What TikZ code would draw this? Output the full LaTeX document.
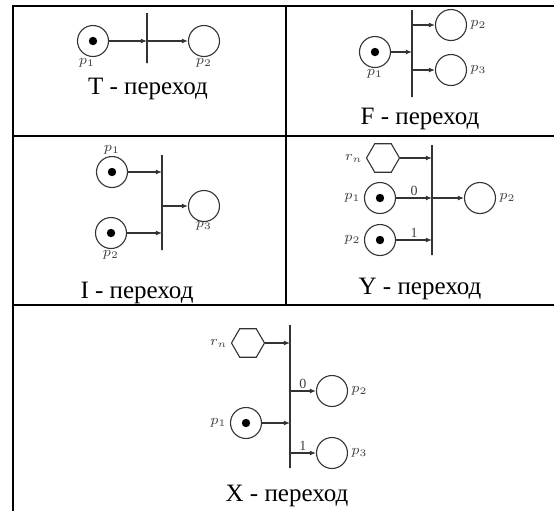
\documentclass[tikz,border=0pt]{standalone}
\usepackage{fontspec}
\setmainfont{Liberation Serif}
\usetikzlibrary{arrows.meta,positioning,shapes.geometric}

\begin{document}
\begin{tikzpicture}[
  x=0.5pt, y=-0.5pt,
  frame/.style={line width=1pt, black},
  place/.style={circle, draw=black!80, line width=0.55pt, minimum size=15.5pt, inner sep=0pt},
  token/.style={circle, fill=black, minimum size=4.2pt, inner sep=0pt},
  trans/.style={draw=black!80, line width=0.55pt, inner sep=0pt, minimum width=0pt},
  res/.style={regular polygon, regular polygon sides=6, draw=black!80, line width=0.55pt, minimum size=16.5pt, inner sep=0pt},
  arc/.style={-{Latex[length=3pt,width=2.4pt]}, black!80, line width=0.55pt},
  plbl/.style={font=\fontsize{7.5}{8}\selectfont, text=black!75, inner sep=0.5pt},
  albl/.style={font=\fontsize{7}{8}\selectfont, text=black!75, inner sep=0.8pt, above},
  title/.style={font=\fontsize{12.5}{14}\selectfont, anchor=base},
]
  \useasboundingbox (0,0) rectangle (554,511);

  % table frame
  \draw[frame] (554,6) -- (13,6) -- (13,511);
  \draw[frame] (13,136) -- (554,136);
  \draw[frame] (13,305) -- (554,305);
  \draw[frame] (286,6) -- (286,305);

  % T - transition
  \node[place] (p1T) at (93,41) {};
  \node[token] at (p1T) {};
  \node[trans, minimum height=25pt] (tT) at (147,38) {};
  \node[place] (p2T) at (204,41) {};
  \node[plbl, below=0pt of p1T, xshift=-3pt] {$p_1$};
  \node[plbl, below=0pt of p2T] {$p_2$};
  \draw[arc] (p1T) -- (p1T -| tT);
  \draw[arc] (tT |- p2T) -- (p2T);
  \node[title] (lT) at (148,94) {T - переход};

  % F - transition
  \node[place] (p1F) at (375,52) {};
  \node[token] at (p1F) {};
  \node[trans, minimum height=43.5pt] (tF) at (412,53.5) {};
  \node[place] (p2F) at (451,25) {};
  \node[place] (p3F) at (451,70) {};
  \node[plbl, below=0pt of p1F] {$p_1$};
  \node[plbl, right=1pt of p2F] {$p_2$};
  \node[plbl, right=1pt of p3F] {$p_3$};
  \draw[arc] (p1F) -- (p1F -| tF);
  \draw[arc] (tF |- p2F) -- (p2F);
  \draw[arc] (tF |- p3F) -- (p3F);
  \node[title] (lF) at (420,124) {F - переход};

  % I - transition
  \node[place] (p1I) at (112,172) {};
  \node[token] at (p1I) {};
  \node[place] (p2I) at (111,233) {};
  \node[token] at (p2I) {};
  \node[trans, minimum height=47.5pt] (tI) at (162,202.5) {};
  \node[place] (p3I) at (204,206) {};
  \node[plbl, above=0pt of p1I] {$p_1$};
  \node[plbl, below=0pt of p2I] {$p_2$};
  \node[plbl, below=-1pt of p3I] {$p_3$};
  \draw[arc] (p1I) -- (p1I -| tI);
  \draw[arc] (p2I) -- (p2I -| tI);
  \draw[arc] (tI |- p3I) -- (p3I);
  \node[title] (lI) at (137,298) {I - переход};

  % Y - transition
  \node[res] (rY) at (383,158) {};
  \node[place] (p1Y) at (380,198) {};
  \node[token] at (p1Y) {};
  \node[place] (p2Y) at (380,240) {};
  \node[token] at (p2Y) {};
  \node[trans, minimum height=55pt] (tY) at (432,200) {};
  \node[place] (p3Y) at (480,198) {};
  \node[plbl, left=1pt of rY] {$r_n$};
  \node[plbl, left=1pt of p1Y] {$p_1$};
  \node[plbl, left=1pt of p2Y] {$p_2$};
  \node[plbl, right=1pt of p3Y] {$p_2$};
  \draw[arc] (rY) -- (rY -| tY);
  \draw[arc] (p1Y) -- node[albl] {0} (p1Y -| tY);
  \draw[arc] (p2Y) -- node[albl] {1} (p2Y -| tY);
  \draw[arc] (tY |- p3Y) -- (p3Y);
  \node[title] (lY) at (420,294) {Y - переход};

  % X - transition
  \node[res] (rX) at (248,343) {};
  \node[place] (p1X) at (246,423) {};
  \node[token] at (p1X) {};
  \node[trans, minimum height=71.5pt] (tX) at (290,396.5) {};
  \node[place] (p2X) at (332,391) {};
  \node[place] (p3X) at (332,453) {};
  \node[plbl, left=1pt of rX] {$r_n$};
  \node[plbl, left=1pt of p1X] {$p_1$};
  \node[plbl, right=1pt of p2X] {$p_2$};
  \node[plbl, right=1pt of p3X] {$p_3$};
  \draw[arc] (rX) -- (rX -| tX);
  \draw[arc] (p1X) -- (p1X -| tX);
  \draw[arc] (tX |- p2X) -- node[albl] {0} (p2X);
  \draw[arc] (tX |- p3X) -- node[albl] {1} (p3X);
  \node[title] (lX) at (287,501) {X - переход};
\end{tikzpicture}
\end{document}
